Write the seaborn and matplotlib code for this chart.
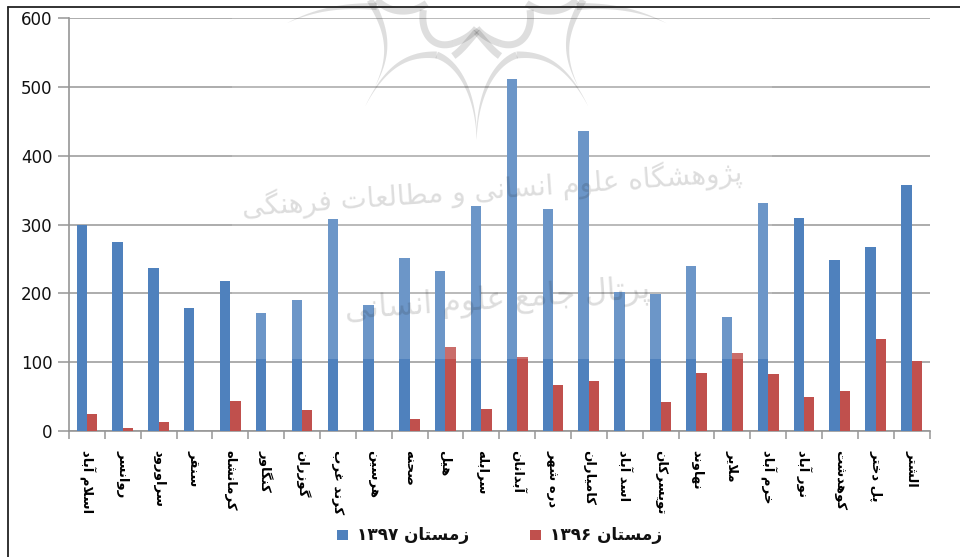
import numpy as np
import pandas as pd
import matplotlib
matplotlib.use('Agg')
import matplotlib.pyplot as plt
from matplotlib.patches import PathPatch, Rectangle
from matplotlib.path import Path
import seaborn as sns

cities = ['اسلام آباد', 'روانسر', 'سراورود', 'سنقر', 'کرمانشاه', 'کنگاور', 'گوزران', 'کرند غرب',
          'هرسین', 'صحنه', 'هیل', 'سرابله', 'آبدانان', 'دره شهر', 'کامیاران', 'اسد آباد',
          'تویسرکان', 'نهاوند', 'ملایر', 'خرم آباد', 'نور آباد', 'کوهدشت', 'پل دختر', 'الشتر']
winter_97 = [300, 275, 237, 178, 218, 172, 190, 308, 183, 252, 233, 327,
             511, 322, 436, 202, 199, 239, 165, 331, 310, 249, 268, 357]
winter_96 = [25, 4, 13, 0, 43, 0, 30, 0, 0, 17, 122, 32,
             107, 67, 72, 0, 42, 84, 114, 83, 50, 58, 134, 102]
series_97 = 'زمستان ۱۳۹۷'
series_96 = 'زمستان ۱۳۹۶'
y_ticks = [0, 100, 200, 300, 400, 500, 600]
mark_line1 = 'پژوهشگاه علوم انسانی و مطالعات فرهنگی'
mark_line2 = 'پرتال جامع علوم انسانی'

# matplotlib does no arabic shaping, so map letters to presentation forms
# (isolated, final, initial, medial)
FORMS = {
    'ا': (0xFE8D, 0xFE8E), 'آ': (0xFE81, 0xFE82), 'د': (0xFEA9, 0xFEAA), 'ر': (0xFEAD, 0xFEAE),
    'ز': (0xFEAF, 0xFEB0), 'ژ': (0xFB8A, 0xFB8B), 'و': (0xFEED, 0xFEEE),
    'ب': (0xFE8F, 0xFE90, 0xFE91, 0xFE92), 'پ': (0xFB56, 0xFB57, 0xFB58, 0xFB59),
    'ت': (0xFE95, 0xFE96, 0xFE97, 0xFE98), 'ج': (0xFE9D, 0xFE9E, 0xFE9F, 0xFEA0),
    'ح': (0xFEA1, 0xFEA2, 0xFEA3, 0xFEA4),
    'خ': (0xFEA5, 0xFEA6, 0xFEA7, 0xFEA8), 'س': (0xFEB1, 0xFEB2, 0xFEB3, 0xFEB4),
    'ش': (0xFEB5, 0xFEB6, 0xFEB7, 0xFEB8), 'ص': (0xFEB9, 0xFEBA, 0xFEBB, 0xFEBC),
    'ط': (0xFEC1, 0xFEC2, 0xFEC3, 0xFEC4), 'ع': (0xFEC9, 0xFECA, 0xFECB, 0xFECC),
    'غ': (0xFECD, 0xFECE, 0xFECF, 0xFED0), 'ف': (0xFED1, 0xFED2, 0xFED3, 0xFED4),
    'ق': (0xFED5, 0xFED6, 0xFED7, 0xFED8), 'ک': (0xFB8E, 0xFB8F, 0xFB90, 0xFB91),
    'گ': (0xFB92, 0xFB93, 0xFB94, 0xFB95), 'ل': (0xFEDD, 0xFEDE, 0xFEDF, 0xFEE0),
    'م': (0xFEE1, 0xFEE2, 0xFEE3, 0xFEE4), 'ن': (0xFEE5, 0xFEE6, 0xFEE7, 0xFEE8),
    'ه': (0xFEE9, 0xFEEA, 0xFEEB, 0xFEEC), 'ی': (0xFBFC, 0xFBFD, 0xFBFE, 0xFBFF),
}


def shape_word(word):
    out = []
    i = 0
    prev_joins = False
    while i < len(word):
        ch = word[i]
        # lam-alef ligature
        if ch == 'ل' and i + 1 < len(word) and word[i + 1] == 'ا':
            out.append(chr(0xFEFC if prev_joins else 0xFEFB))
            prev_joins = False
            i += 2
            continue
        forms = FORMS[ch]
        next_letter = i + 1 < len(word)
        dual = len(forms) == 4
        if prev_joins:
            out.append(chr(forms[3] if dual and next_letter else forms[1]))
        else:
            out.append(chr(forms[2] if dual and next_letter else forms[0]))
        prev_joins = dual
        i += 1
    return ''.join(reversed(out))


def rtl(text):
    words = []
    for word in text.split(' '):
        words.append(word if word[0] in '۰۱۲۳۴۵۶۷۸۹' else shape_word(word))
    return ' '.join(reversed(words))


def taper(ov, points, w0, w1):
    """Stroke a cubic bezier as a filled shape going from width w0 to w1"""
    p = np.array(points, dtype=float) / 3 + [220, 0]
    t = np.linspace(0, 1, 40)[:, None]
    xy = (1-t)**3*p[0] + 3*(1-t)**2*t*p[1] + 3*(1-t)*t**2*p[2] + t**3*p[3]
    d = np.gradient(xy, axis=0)
    n = np.c_[-d[:, 1], d[:, 0]] / np.linalg.norm(d, axis=1)[:, None]
    w = (w0 + (w1 - w0)*t) / 2
    poly = np.r_[xy + n*w, (xy - n*w)[::-1]]
    ov.add_patch(PathPatch(Path(poly), fc='k', ec='none', alpha=0.14))


sns.set_theme(style='white')
plt.rcParams['font.family'] = ['DejaVu Sans']

df = pd.DataFrame({
    'city': cities * 2,
    'count': winter_97 + winter_96,
    'season': [series_97] * len(cities) + [series_96] * len(cities),
})

fig = plt.figure(figsize=(9.6, 5.57), dpi=100)
ax = fig.add_axes([69/960, 1 - 431/557, (929.5 - 69)/960, (431 - 18)/557])
sns.barplot(data=df, x='city', y='count', hue='season', ax=ax, width=0.58, gap=0, dodge=True,
            palette=['#4F81BD', '#C0504D'], saturation=1, legend=False, zorder=3, linewidth=0)

grid = '#969696'
ax.set_ylim(0, 600)
ax.set_xlim(-0.5, len(cities) - 0.5)
ax.set_yticks(y_ticks)
ax.set_yticklabels([str(v) for v in y_ticks], fontsize=12, color='#111111')
ax.set_xticks(np.arange(len(cities) + 1) - 0.5)
ax.set_xticklabels([])
ax.set_xticks(np.arange(len(cities)), minor=True)
ax.set_xticklabels([rtl(c) for c in cities], minor=True, rotation=270, fontsize=9.5,
                   fontweight='bold', color='black', va='top', ha='center')
ax.set_xlabel('')
ax.set_ylabel('')
ax.yaxis.grid(True, color=grid, lw=1.1, zorder=1)
ax.set_axisbelow(True)
ax.tick_params(axis='x', which='major', length=6, width=1.1, color=grid, bottom=True)
ax.tick_params(axis='x', which='minor', length=0, pad=14)
ax.tick_params(axis='y', length=8, width=1.1, color=grid, left=True, pad=4)
sns.despine(ax=ax, top=True, right=True)
for side in ['left', 'bottom']:
    ax.spines[side].set_color(grid)
    ax.spines[side].set_linewidth(1.2)

# overlay in pixel coordinates: frame, watermark and legend
ov = fig.add_axes([0, 0, 1, 1], zorder=5)
ov.set_xlim(0, 960)
ov.set_ylim(557, 0)
ov.axis('off')
ov.patch.set_alpha(0)
ov.plot([7.5, 7.5], [6.5, 557], color='#222222', lw=1.3)
ov.plot([7.5, 960], [6.5, 6.5], color='#222222', lw=1.3)

# scanned watermark washes out the chart above the 100 line
ov.add_patch(Rectangle((232, 8), 540, 351, fc='white', ec='none', alpha=0.17))

# logo
taper(ov, [(435, 320), (500, 190), (570, 160), (650, 165)], 0, 7)
taper(ov, [(1105, 320), (1040, 190), (970, 160), (890, 165)], 0, 7)
taper(ov, [(650, 165), (720, 190), (770, 290), (770, 420)], 7, 0)
taper(ov, [(890, 165), (820, 190), (770, 290), (770, 420)], 7, 0)
taper(ov, [(450, 0), (510, 100), (510, 170), (465, 260)], 7, 0)
taper(ov, [(1090, 0), (1030, 100), (1030, 170), (1075, 260)], 7, 0)
taper(ov, [(200, 70), (290, 25), (380, 15), (470, 20)], 0, 7)
taper(ov, [(1340, 70), (1250, 25), (1160, 15), (1070, 20)], 0, 7)
taper(ov, [(610, 30), (600, 100), (640, 150), (700, 130)], 7, 7)
taper(ov, [(930, 30), (940, 100), (900, 150), (840, 130)], 7, 7)
taper(ov, [(700, 130), (730, 120), (755, 105), (770, 85)], 7, 7)
taper(ov, [(840, 130), (810, 120), (785, 105), (770, 85)], 7, 7)
taper(ov, [(470, 0), (510, 40), (570, 45), (620, 10)], 7, 7)
taper(ov, [(1070, 0), (1030, 40), (970, 45), (920, 10)], 7, 7)
taper(ov, [(770, 95), (800, 130), (815, 150), (840, 168)], 7, 7)
taper(ov, [(770, 95), (740, 130), (725, 150), (700, 168)], 7, 7)
ov.text(492, 190, rtl(mark_line1), fontsize=20, color='k', alpha=0.15, rotation=4,
        ha='center', va='center', rotation_mode='anchor')
ov.text(497, 300, rtl(mark_line2), fontsize=22, color='k', alpha=0.15, rotation=4,
        ha='center', va='center', rotation_mode='anchor')

# legend
ov.add_patch(Rectangle((337, 530), 10.5, 10, fc='#4F81BD', ec='none'))
ov.add_patch(Rectangle((530, 530), 10.5, 10, fc='#C0504D', ec='none'))
ov.text(357, 535, rtl(series_97), fontsize=12.2, fontweight='bold', color='#111111', va='center')
ov.text(550, 535, rtl(series_96), fontsize=12.2, fontweight='bold', color='#111111', va='center')

fig.savefig('out.png', dpi=100, facecolor='white')
